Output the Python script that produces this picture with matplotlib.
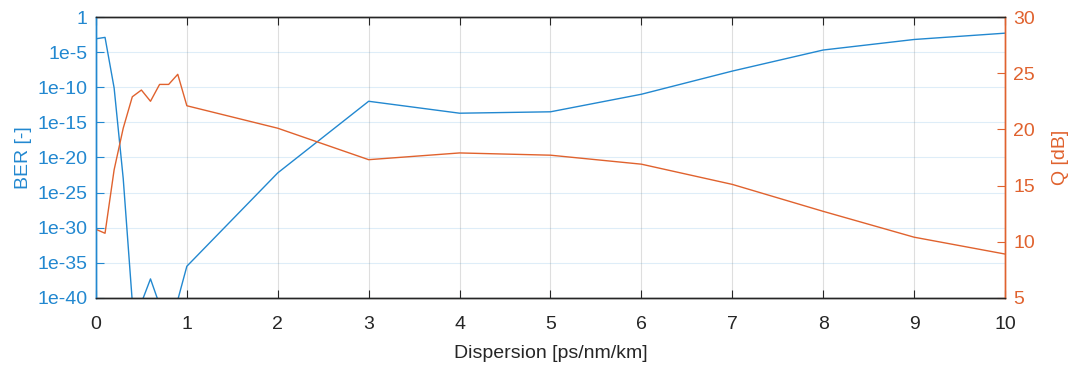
import numpy as np
import matplotlib
matplotlib.use('Agg')
import matplotlib.pyplot as plt

plt.rcParams['font.family'] = ['Liberation Sans', 'DejaVu Sans']

# -- Data --------------------------------------------------------------------
dispersion = [0, 0.1, 0.2, 0.3, 0.4, 0.5, 0.6, 0.7, 0.8, 0.9, 1, 2, 3, 4, 5, 6, 7, 8, 9, 10]
ber_log10 = [-3.1, -2.9, -10.1, -23.0, -40.6, -40.7, -37.3, -41.0, -42.0, -40.3,
             -35.5, -22.2, -12.0, -13.7, -13.5, -11.0, -7.7, -4.7, -3.2, -2.3]
q_db = [11.1, 10.75, 16.4, 20.1, 22.9, 23.5, 22.5, 24.0, 24.0, 24.9,
        22.1, 20.1, 17.3, 17.9, 17.7, 16.9, 15.1, 12.7, 10.4, 8.9]

ber = [10.0 ** v for v in ber_log10]
ber_ticks = [1e-40, 1e-35, 1e-30, 1e-25, 1e-20, 1e-15, 1e-10, 1e-5, 1]
ber_labels = ['1e-40', '1e-35', '1e-30', '1e-25', '1e-20', '1e-15', '1e-10', '1e-5', '1']
q_ticks = [5, 10, 15, 20, 25, 30]

BLUE = '#2288d0'
ORANGE = '#e0622e'
DARK = '#262626'
FS = 14

# -- Plot --------------------------------------------------------------------
fig = plt.figure(figsize=(10.78, 3.70), dpi=100)
ax1 = fig.add_axes([0.089, 0.195, 0.8433, 0.759])
ax2 = ax1.twinx()

ax1.plot(dispersion, ber, color=BLUE, linewidth=1.0)
ax1.set_yscale('log')
ax1.set_ylim(1e-40, 1)
ax1.set_yticks(ber_ticks)
ax1.set_yticklabels(ber_labels)
ax1.minorticks_off()
ax1.set_xlim(0, 10)
ax1.set_xticks(range(0, 11))
ax1.set_ylabel('BER [-]', color=BLUE, fontsize=FS, labelpad=4)
ax1.set_xlabel('Dispersion [ps/nm/km]', color=DARK, fontsize=FS, labelpad=9)

ax2.plot(dispersion, q_db, color=ORANGE, linewidth=1.0)
ax2.set_ylim(5, 30)
ax2.set_yticks(q_ticks)
ax2.set_ylabel('Q [dB]', color=ORANGE, fontsize=FS, labelpad=12)

# grid: vertical grey, horizontal in left-axis colour
ax1.xaxis.grid(True, color=DARK, alpha=0.15, linewidth=0.8)
ax1.yaxis.grid(True, color=BLUE, alpha=0.15, linewidth=0.8)
ax1.set_axisbelow(True)

for ax in (ax1, ax2):
    ax.spines['top'].set_color(DARK)
    ax.spines['bottom'].set_color(DARK)
    ax.spines['left'].set_color(BLUE)
    ax.spines['right'].set_color(ORANGE)
    for s in ax.spines.values():
        s.set_linewidth(1.0)

ax1.tick_params(axis='x', direction='in', length=6, top=True, colors=DARK,
                labelsize=FS, pad=13)
ax1.tick_params(axis='y', direction='in', length=6, colors=BLUE, labelsize=FS, pad=6)
ax2.tick_params(axis='y', direction='in', length=6, colors=ORANGE, labelsize=FS, pad=6)

plt.savefig('out.png', dpi=100)
